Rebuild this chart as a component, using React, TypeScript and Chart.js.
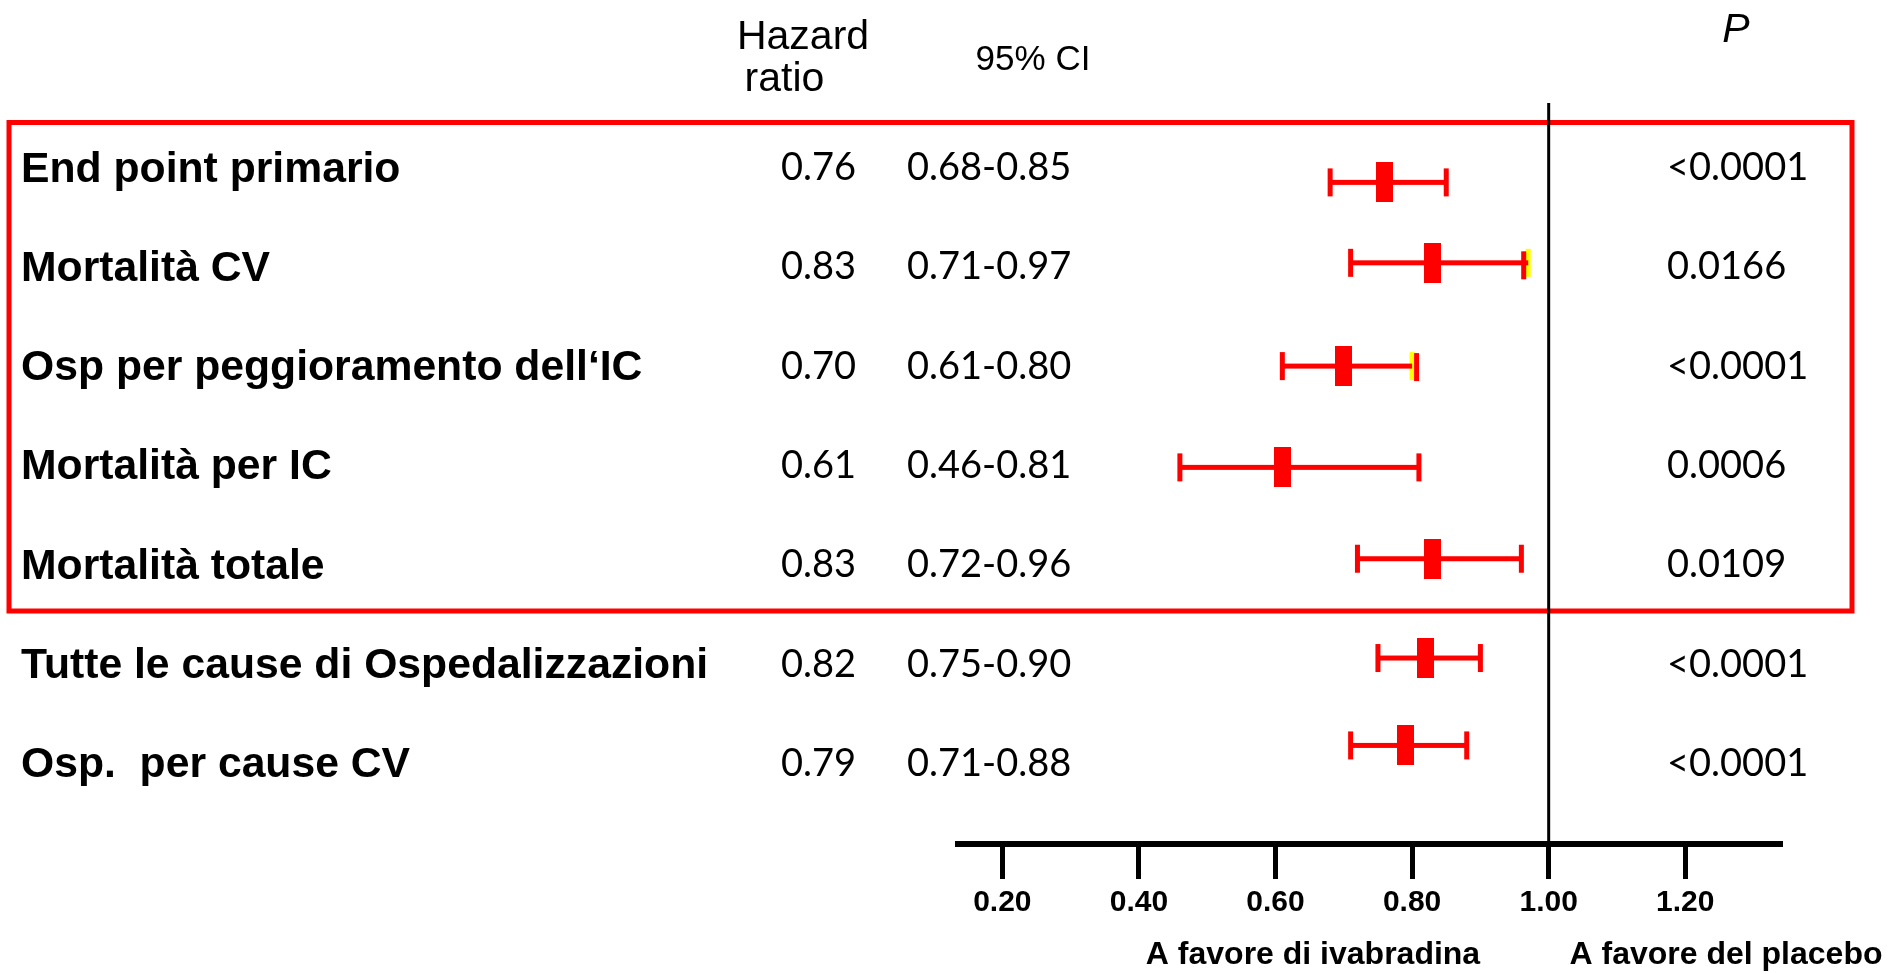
import React, { useEffect, useRef } from 'react';
import { Chart, registerables } from 'chart.js';

Chart.register(...registerables);

// Outcomes, hazard ratios and 95% confidence limits
const categories = [
  'End point primario',
  'Mortalità CV',
  'Osp per peggioramento dell‘IC',
  'Mortalità per IC',
  'Mortalità totale',
  'Tutte le cause di Ospedalizzazioni',
  'Osp.  per cause CV',
];
const hazardRatios = [0.76, 0.83, 0.7, 0.61, 0.83, 0.82, 0.79];
const ciLower = [0.68, 0.71, 0.61, 0.46, 0.72, 0.75, 0.71];
const ciUpper = [0.85, 0.97, 0.8, 0.81, 0.96, 0.9, 0.88];
const pValues = ['<0.0001', '0.0166', '<0.0001', '0.0006', '0.0109', '<0.0001', '<0.0001'];
// vertical position (in row units) at which each estimate is plotted
const markerRows = [0.16, 0.97, 2.01, 3.03, 3.95, 4.95, 5.83];
const axisTicks = [0.2, 0.4, 0.6, 0.8, 1.0, 1.2];
const favourLabels = ['A favore di ivabradina', 'A favore del placebo'];

const RED = '#ff0000';
const YELLOW = '#ffff00';
const ARIAL = '"Liberation Sans", Arial, sans-serif';
const NUMS = 'Lato, "Open Sans", sans-serif';

// upper caps that carry a yellow underlay, with the red cap slightly shifted
const CAP_NUDGE: Record<number, { dx: number; dy: number }> = {
  1: { dx: -4.5, dy: 2.5 },
  2: { dx: 4.5, dy: 1 },
};

const forestPlugin = {
  id: 'forest',
  beforeDraw(chart: any) {
    const ctx = chart.ctx;
    ctx.save();
    ctx.fillStyle = '#fff';
    ctx.fillRect(0, 0, chart.width, chart.height);
    // frame around the main outcomes
    ctx.strokeStyle = RED;
    ctx.lineWidth = 5;
    ctx.strokeRect(9, 122.5, 1843, 488.5);
    ctx.restore();
  },
  beforeDatasetsDraw(chart: any) {
    const { ctx, chartArea } = chart;
    const x = chart.scales.x;
    const y = chart.scales.y;
    ctx.save();
    // line of no effect
    const x1 = x.getPixelForValue(1);
    ctx.strokeStyle = '#000';
    ctx.lineWidth = 3;
    ctx.beginPath();
    ctx.moveTo(x1, chartArea.top);
    ctx.lineTo(x1, chartArea.bottom);
    ctx.stroke();

    // confidence-interval whiskers
    hazardRatios.forEach((_, i) => {
      const yc = y.getPixelForValue(markerRows[i]);
      const xl = x.getPixelForValue(ciLower[i]);
      const xh = x.getPixelForValue(ciUpper[i]);
      const nudge = CAP_NUDGE[i];
      if (nudge) {
        ctx.fillStyle = YELLOW;
        ctx.fillRect(xh - 2.5, yc - 14, 5, 28);
      }
      ctx.fillStyle = RED;
      ctx.fillRect(xl, yc - 2.5, xh - xl, 5);
      ctx.fillRect(xl - 2.5, yc - 14, 5, 28);
      if (nudge) {
        ctx.fillRect(xh - 2.5 + nudge.dx, yc - 14 + nudge.dy, 5, 28);
      } else {
        ctx.fillRect(xh - 2.5, yc - 14, 5, 28);
      }
    });
    ctx.restore();
  },
  afterDraw(chart: any) {
    const ctx = chart.ctx;
    const y = chart.scales.y;
    ctx.save();
    ctx.fillStyle = '#000';
    ctx.textBaseline = 'alphabetic';

    // column headers
    ctx.textAlign = 'center';
    ctx.font = `41px ${ARIAL}`;
    ctx.fillText('Hazard', 803, 49);
    ctx.fillText('ratio', 784.5, 91);
    ctx.font = `35px ${ARIAL}`;
    ctx.fillText('95% CI', 1033, 70);
    ctx.font = `italic 41px ${ARIAL}`;
    ctx.fillText('P', 1736, 42);

    // one line of text per outcome
    categories.forEach((name, i) => {
      const yc = y.getPixelForValue(i);
      ctx.textAlign = 'left';
      ctx.font = `bold 42.7px ${ARIAL}`;
      ctx.fillText(name, 21, yc + 15);

      ctx.font = `38px ${NUMS}`;
      ctx.textAlign = 'center';
      ctx.fillText(hazardRatios[i].toFixed(2), 818.5, yc + 13.6);
      ctx.textAlign = 'left';
      ctx.fillText(`${ciLower[i].toFixed(2)}-${ciUpper[i].toFixed(2)}`, 907, yc + 13.6);
      ctx.fillText(pValues[i], 1667, yc + 13.6);
    });

    // direction captions under the axis
    ctx.textAlign = 'center';
    ctx.font = `bold 32px ${ARIAL}`;
    ctx.fillText(favourLabels[0], 1313, 964);
    ctx.fillText(favourLabels[1], 1726, 964);
    ctx.restore();
  },
};

export default function App() {
  const canvasRef = useRef<HTMLCanvasElement | null>(null);

  useEffect(() => {
    if (!canvasRef.current) return;
    document.body.style.margin = '0';

    // estimate marker: a filled red block
    const box = document.createElement('canvas');
    box.width = 17;
    box.height = 40;
    const bctx = box.getContext('2d')!;
    bctx.fillStyle = RED;
    bctx.fillRect(0, 0, 17, 40);

    const chart = new Chart(canvasRef.current, {
      type: 'scatter',
      data: {
        datasets: [
          {
            label: 'Hazard ratio',
            data: hazardRatios.map((v, i) => ({ x: v, y: markerRows[i] })),
            pointStyle: box as any,
            pointRadius: 10,
            backgroundColor: RED,
            borderColor: RED,
          },
        ],
      },
      options: {
        animation: false,
        responsive: true,
        maintainAspectRatio: false,
        events: [],
        layout: { padding: { left: 958, right: 119, top: 103, bottom: 0 } },
        plugins: { legend: { display: false }, tooltip: { enabled: false } },
        scales: {
          x: {
            type: 'linear',
            position: 'bottom',
            min: 0.1351,
            max: 1.3387,
            afterBuildTicks: (s: any) => {
              s.ticks = axisTicks.map((value) => ({ value }));
            },
            afterFit: (s: any) => {
              s.height = 130;
            },
            ticks: {
              callback: (v: any) => Number(v).toFixed(2),
              font: { family: ARIAL, size: 30, weight: 'bold' },
              color: '#000',
              padding: 6,
              maxRotation: 0,
              autoSkip: false,
            },
            grid: {
              drawOnChartArea: false,
              drawTicks: true,
              tickLength: 35,
              lineWidth: 5,
              color: '#000',
            },
            border: { display: true, width: 6, color: '#000' },
          },
          y: {
            type: 'linear',
            reverse: true,
            min: -0.6395,
            max: 6.8227,
            display: false,
          },
        },
      },
      plugins: [forestPlugin],
    });

    return () => chart.destroy();
  }, []);

  return (
    <div style={{ position: 'absolute', left: 0, top: 0, width: 1899, height: 974, background: '#fff' }}>
      <canvas ref={canvasRef} />
    </div>
  );
}
